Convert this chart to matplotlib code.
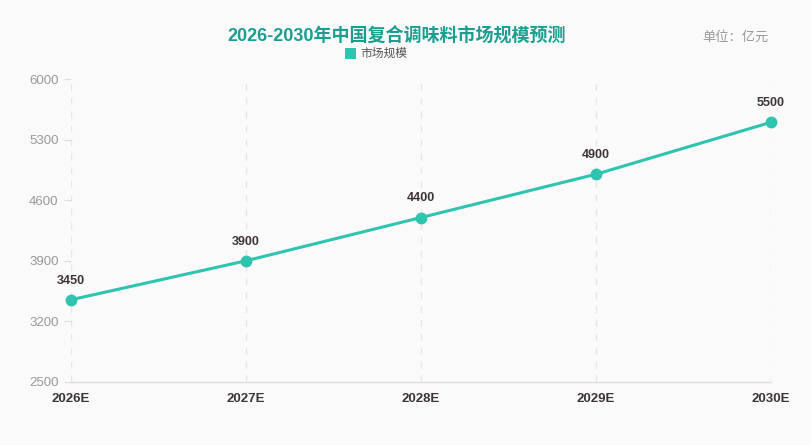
import matplotlib
matplotlib.use("Agg")
import matplotlib.pyplot as plt
from matplotlib.patches import Rectangle

plt.rcParams['font.family'] = ['Liberation Sans', 'Noto Sans CJK SC', 'DejaVu Sans']

years = ["2026E", "2027E", "2028E", "2029E", "2030E"]
values = [3450, 3900, 4400, 4900, 5500]
y_ticks = [2500, 3200, 3900, 4600, 5300, 6000]

bg = "#fafafa"
teal = "#2ec4b0"
fig = plt.figure(figsize=(8.11, 4.45), dpi=100, facecolor=bg)
W, H = 811, 445
ax = fig.add_axes([71 / W, 1 - 382 / H, 700 / W, 303 / H], facecolor=bg)

x = list(range(len(years)))
ax.plot(x, values, color=teal, lw=2.2, marker='o', ms=7.5, zorder=3, clip_on=False)
for xi, v in zip(x, values):
    ax.annotate(str(v), (xi, v), xytext=(0, 9.5), textcoords='offset points',
                ha='center', va='bottom', fontsize=9, fontweight='bold',
                color='#3d3535')

ax.set_xlim(0, len(years) - 1)
ax.set_ylim(2500, 6000)
ax.set_yticks(y_ticks)
ax.set_yticklabels([str(t) for t in y_ticks])
ax.set_xticks(x)
ax.set_xticklabels(years, fontweight='bold')
ax.tick_params(axis='y', length=5, color='#dddddd', labelcolor='#999999', labelsize=9.5, pad=4)
ax.tick_params(axis='x', length=0, labelcolor='#3d3535', labelsize=9.5, pad=8)

for s in ['top', 'right', 'left']:
    ax.spines[s].set_visible(False)
ax.spines['bottom'].set_color('#dddddd')
ax.spines['bottom'].set_linewidth(1)

for xi in x:
    ax.axvline(xi, color='#e6e6e6', lw=1, ls=(0, (5, 5)), zorder=1)

fig.text(397 / W, 1 - 36 / H, "2026-2030年中国复合调味料市场规模预测", ha='center', va='center',
         fontsize=13, fontweight='bold', color='#1a9e8f')
fig.text(735 / W, 1 - 37 / H, "单位：亿元", ha='center', va='center', fontsize=9.5, color='#999999')
fig.patches.append(Rectangle((345 / W, 1 - 59 / H), 11 / W, 11 / H, transform=fig.transFigure,
                             facecolor=teal, edgecolor='none'))
fig.text(360 / W, 1 - 53.5 / H, "市场规模", ha='left', va='center', fontsize=8.5, color='#555555')

fig.savefig("out.png", dpi=100, facecolor=bg)
